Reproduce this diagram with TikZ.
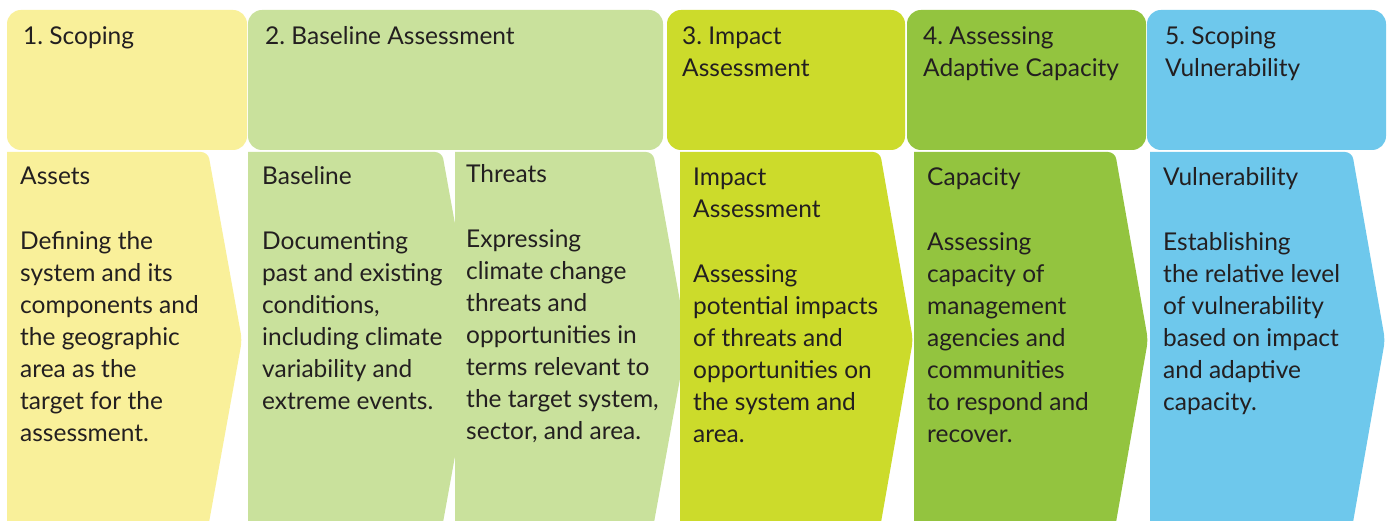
\documentclass[tikz,border=0pt]{standalone}
\usepackage{fontspec}
\setmainfont{Lato}
\frenchspacing
\definecolor{cYel}{HTML}{F9F09A}
\definecolor{cLgr}{HTML}{C9E19C}
\definecolor{cYgr}{HTML}{CCDB2B}
\definecolor{cGrn}{HTML}{93C43F}
\definecolor{cBlu}{HTML}{6EC8EC}
\definecolor{cTxt}{HTML}{231F20}
\newcommand{\lns}[1]{\parbox[t]{300pt}{\raggedright #1}}
\newcommand{\chev}[4]{\fill[#1] (#2,528) -- (#2,152) [rounded corners=7pt] -- (#3,152) -- (#4,340) -- (#3,528) [sharp corners] -- cycle;}
\begin{document}
\begin{tikzpicture}[x=1pt,y=-1pt,
  hdrbox/.style={rounded corners=14pt},
  txt/.style={anchor=base west, inner sep=0pt, text=cTxt, font=\fontsize{24.5}{32}\selectfont}]
\useasboundingbox (0,0) rectangle (1389,521);
\clip (0,0) rectangle (1389,521);
\fill[white] (0,0) rectangle (1389,521);
% header boxes
\fill[cYel, hdrbox] (7,10) rectangle (247,150);
\fill[cLgr, hdrbox] (248,10) rectangle (663,150);
\fill[cYgr, hdrbox] (667,10) rectangle (905,150);
\fill[cGrn, hdrbox] (907,10) rectangle (1146,150);
\fill[cBlu, hdrbox] (1147,10) rectangle (1386,150);
% chevrons
\chev{cYel}{7}{208}{242}
\chev{cLgr}{248}{442}{476}
\chev{cLgr}{455}{653}{687}
\chev{cYgr}{680}{880}{913}
\chev{cGrn}{914}{1115}{1148}
\chev{cBlu}{1150}{1352}{1385}
% header texts
\node[txt] (h1) at (23,45) {1. Scoping};
\node[txt] (h2) at (265,45) {2. Baseline Assessment};
\node[txt] (h3) at (682,45) {\lns{3. Impact\\Assessment}};
\node[txt] (h4) at (923,45) {\lns{4. Assessing\\Adaptive Capacity}};
\node[txt] (h5) at (1165,45) {\lns{5. Scoping\\Vulnerability}};
% body texts
\node[txt] (b1) at (20,185) {\lns{Assets\\[33pt]Defining the\\system and its\\components and\\the geographic\\area as the\\target for the\\assessment.}};
\node[txt] (b2) at (262,185) {\lns{Baseline\\[33pt]Documenting\\past and existing\\conditions,\\including climate\\variability and\\extreme events.}};
\node[txt] (b3) at (466,183) {\lns{Threats\\[33pt]Expressing\\climate change\\threats and\\opportunities in\\terms relevant to\\the target system,\\sector, and area.}};
\node[txt] (b4) at (693,186) {\lns{Impact\\Assessment\\[33pt]Assessing\\potential impacts\\of threats and\\opportunities on\\the system and\\area.}};
\node[txt] (b5) at (927,186) {\lns{Capacity\\[33pt]Assessing\\capacity of\\management\\agencies and\\communities\\to respond and\\recover.}};
\node[txt] (b6) at (1163,186) {\lns{Vulnerability\\[33pt]Establishing\\the relative level\\of vulnerability\\based on impact\\and adaptive\\capacity.}};
\end{tikzpicture}
\end{document}
